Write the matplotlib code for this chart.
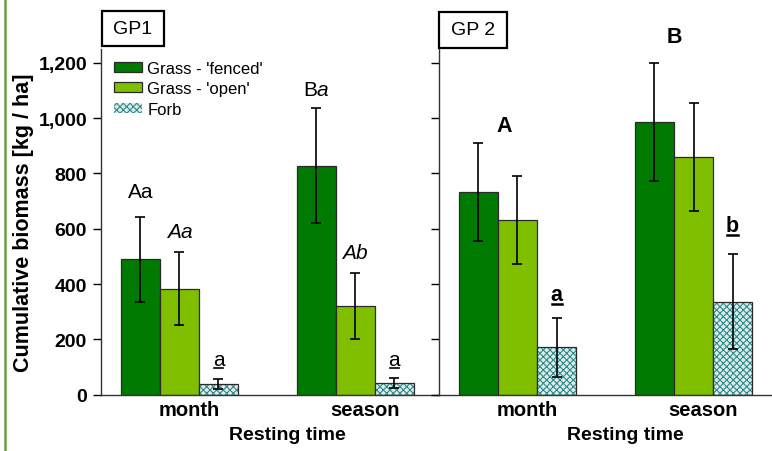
import numpy as np
import matplotlib
matplotlib.use("Agg")
import matplotlib.pyplot as plt
from matplotlib.patches import Rectangle
from matplotlib.lines import Line2D
from matplotlib.ticker import StrMethodFormatter

plt.rcParams['font.family'] = ['Liberation Sans', 'DejaVu Sans']
plt.rcParams['mathtext.fontset'] = 'custom'
plt.rcParams['mathtext.rm'] = 'Liberation Sans'
plt.rcParams['mathtext.it'] = 'Liberation Sans:italic'
plt.rcParams['mathtext.bf'] = 'Liberation Sans:bold'
plt.rcParams['hatch.linewidth'] = 0.8

# data (kg/ha)
groups = ['month', 'season']
series = ["Grass - 'fenced'", "Grass - 'open'", "Forb"]

gp1_mean = [[490, 828], [383, 319], [39, 42]]
gp1_low = [[336, 620], [252, 201], [21, 24]]
gp1_high = [[643, 1035], [515, 440], [57, 61]]

gp2_mean = [[734, 987], [631, 859], [171, 336]]
gp2_low = [[555, 771], [471, 664], [63, 165]]
gp2_high = [[910, 1201], [790, 1055], [278, 507]]

# letters: (series index, group index, text, y position, style)
gp1_letters = [(0, 0, 'Aa', 733, 'n'), (1, 0, r'$\mathit{Aa}$', 591, 'n'),
               (2, 0, 'a', 128, 'u'), (0, 1, r'B$\mathit{a}$', 1104, 'n'),
               (1, 1, r'$\mathit{Ab}$', 515, 'n'), (2, 1, 'a', 128, 'u')]
gp2_letters = [(0.65, 0, 'A', 975, 'b'), (0.5, 1, 'B', 1295, 'b'),
               (2, 0, 'a', 364, 'bu'), (2, 1, 'b', 610, 'bu')]

colors = ['#007a00', '#80bf00', '#dcecea']
edge = '#2a2a2a'
hatch_col = '#2e8a8a'
w = 0.2216

fig = plt.figure(figsize=(7.72, 4.52), dpi=100)
W, H = 772, 452
bot = (452 - 395.7) / H
hgt = (395.7 - 50) / H
ax1 = fig.add_axes([101 / W, bot, 338 / W, hgt])
ax2 = fig.add_axes([439 / W, bot, 333 / W, hgt])

x = np.arange(len(groups))
underlined = []

for ax, mean, low, high, letters in [(ax1, gp1_mean, gp1_low, gp1_high, gp1_letters),
                                     (ax2, gp2_mean, gp2_low, gp2_high, gp2_letters)]:
    for i in range(3):
        m = np.array(mean[i])
        err = [m - np.array(low[i]), np.array(high[i]) - m]
        xi = x + (i - 1) * w
        if i == 2:
            ax.bar(xi, m, w, color=colors[i], edgecolor=hatch_col, hatch='xxxxx',
                   linewidth=0, label=series[i], zorder=2)
            ax.bar(xi, m, w, color='none', edgecolor=edge, linewidth=0.9, zorder=3)
        else:
            ax.bar(xi, m, w, color=colors[i], edgecolor=edge, linewidth=0.9,
                   label=series[i], zorder=2)
        ax.errorbar(xi, m, yerr=err, fmt='none', ecolor='black', elinewidth=1.2,
                    capsize=3.5, capthick=1.2, zorder=4)
    for si, gi, txt, ypos, st in letters:
        t = ax.text(x[gi] + (si - 1) * w, ypos, txt, ha='center', va='center',
                    fontsize=15.5 if 'b' in st else 15,
                    fontweight='bold' if 'b' in st else 'normal', clip_on=False)
        if 'u' in st:
            underlined.append(t)

    ax.set_ylim(0, 1250)
    ax.set_yticks(np.arange(0, 1201, 200))
    ax.set_xticks(x + 0.055)
    ax.set_xticklabels(groups, fontsize=14.5, fontweight='bold')
    ax.tick_params(axis='x', length=0, pad=4)
    ax.tick_params(axis='y', length=6, width=1, direction='out', pad=4)
    ax.spines['top'].set_visible(False)
    ax.spines['right'].set_visible(False)
    for s in ['left', 'bottom']:
        ax.spines[s].set_color('#333333')
        ax.spines[s].set_linewidth(1)
    ax.set_xlabel('Resting time', fontsize=14, fontweight='bold')

ax1.set_xlim(-0.446, 1.475)
ax2.set_xlim(-0.446, 1.446)
ax1.yaxis.set_major_formatter(StrMethodFormatter('{x:,.0f}'))
for lab in ax1.get_yticklabels():
    lab.set_fontweight('bold')
    lab.set_fontsize(14)
ax2.set_yticklabels([])
ax1.set_ylabel('Cumulative biomass [kg / ha]', fontsize=15.5, fontweight='bold')
ax1.yaxis.set_label_coords(-0.198, 0.5)
ax1.xaxis.set_label_coords(0.55, -0.09)
ax2.xaxis.set_label_coords(0.559, -0.09)

ax1.legend(loc='upper left', bbox_to_anchor=(0.038, 0.966), frameon=False,
           fontsize=12, handlelength=1.7, handleheight=0.55, handletextpad=0.3,
           labelspacing=0.33, borderpad=0, borderaxespad=0)

# panel boxes
for ax, name, x0, x1, y0, y1 in [(ax1, 'GP1', 0.003, 0.186, 1.009, 1.11),
                                 (ax2, 'GP 2', 0.0, 0.204, 1.003, 1.107)]:
    ax.add_patch(Rectangle((x0, y0), x1 - x0, y1 - y0, transform=ax.transAxes,
                           facecolor='white', edgecolor='black', linewidth=1.6,
                           clip_on=False))
    ax.text((x0 + x1) / 2, (y0 + y1) / 2, name, transform=ax.transAxes,
            ha='center', va='center', fontsize=14)

# green frame line at the left edge
fig.add_artist(Line2D([5 / W, 5 / W], [0, 1], transform=fig.transFigure,
                      color='#6a9f45', linewidth=1.8))

# underline letters
fig.canvas.draw()
for t in underlined:
    bb = t.get_window_extent()
    yl = bb.y0 + 1
    fig.add_artist(Line2D([bb.x0 + 1, bb.x1 - 1], [yl, yl], transform=None,
                          color='black', linewidth=1.8 if t.get_fontweight() == 'bold' else 1.2))

fig.savefig('out.png', dpi=100)
